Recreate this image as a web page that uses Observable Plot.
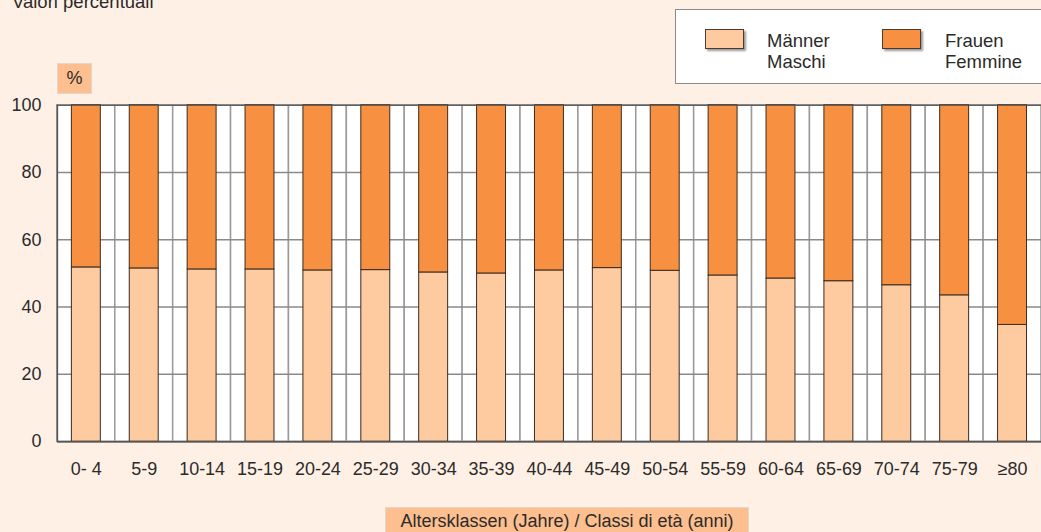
<!DOCTYPE html>
<html><head><meta charset="utf-8">
<script src="https://cdn.jsdelivr.net/npm/d3@7"></script>
<script src="https://cdn.jsdelivr.net/npm/@observablehq/plot@0.6"></script>
<style>
html,body{margin:0;padding:0;overflow:hidden;background:#FEF0E5;width:1041px;height:532px;}
body{position:relative;font-family:"Liberation Sans",Arial,sans-serif;color:#2b2b2b;}
#chart{position:absolute;left:0;top:0;}
.abs{position:absolute;white-space:nowrap;}
.sw{position:absolute;width:37px;height:18px;border:1px solid #4a3a30;box-shadow:2px 2px 2px #9a9a9a;}
.lt{position:absolute;font-size:18.5px;line-height:21px;color:#2b2b2b;}
</style></head><body>
<div id="chart"></div>
<div class="abs" style="left:12px;top:-8px;font-size:18.5px;line-height:20px;">Valori percentuali</div>
<div class="abs" style="left:57px;top:63px;width:33px;height:29px;background:#FDBF8F;border:1px solid #e6d6c8;font-size:18px;line-height:29px;text-align:center;">%</div>
<div class="abs" style="left:675px;top:9px;width:400px;height:73px;background:#fff;border:1px solid #8a8a8a;"></div>
<div class="sw" style="left:705px;top:29px;background:#FECA9F;"></div>
<div class="lt" style="left:767px;top:30px;">Männer<br>Maschi</div>
<div class="sw" style="left:882px;top:29px;background:#F79041;"></div>
<div class="lt" style="left:945px;top:30px;">Frauen<br>Femmine</div>
<div class="abs" style="left:385px;top:507px;width:362px;height:30px;background:#FDBF8F;border:1px solid #e6d6c8;font-size:18px;line-height:26px;text-align:center;">Altersklassen (Jahre) / Classi di età (anni)</div>
<script>
const ages = ["0- 4","5-9","10-14","15-19","20-24","25-29","30-34","35-39","40-44","45-49","50-54","55-59","60-64","65-69","70-74","75-79","≥80"];
const maenner = [51.8,51.5,51.2,51.2,50.9,51.0,50.3,50.0,50.9,51.6,50.8,49.4,48.5,47.7,46.5,43.5,34.7];
const frauen  = [48.2,48.5,48.8,48.8,49.1,49.0,49.7,50.0,49.1,48.4,49.2,50.6,51.5,52.3,53.5,56.5,65.3];
const sexes = ["Männer","Frauen"];
const colors = ["#FECA9F","#F79041"];
const yTicks = [0,20,40,60,80,100];

const table = [];
ages.forEach((a,i)=>{
  table.push({age:a, sex:sexes[0], value:maenner[i]});
  table.push({age:a, sex:sexes[1], value:frauen[i]});
});
const yMax = d3.max(yTicks), yMin = d3.min(yTicks);

const chart = Plot.plot({
  width: 1043, height: 532,
  marginLeft: 57, marginRight: 0, marginTop: 105, marginBottom: 90,
  style: {background:"transparent", color:"#2b2b2b", fontFamily:"'Liberation Sans', Arial, sans-serif"},
  x: {type:"band", domain: ages, padding: 0},
  y: {domain:[yMin,yMax]},
  color: {domain: sexes, range: colors},
  marks: [
    Plot.barY(ages, {x: d=>d, y1: ()=>yMin, y2: ()=>yMax, fill:"white", stroke:"#9a9a9a", strokeWidth:1.5}),
    Plot.gridY(yTicks, {stroke:"#8a8a8a", strokeOpacity:1, strokeWidth:1.5}),
    Plot.barY(table, {x:"age", y:"value", fill:"sex", stroke:"#3b2b20", strokeWidth:1, insetLeft:14.5, insetRight:14.5}),
    Plot.ruleY([yMin], {stroke:"#555", strokeWidth:1.5}),
    Plot.ruleY([yMax], {stroke:"#555", strokeWidth:1}),
    Plot.ruleX([ages[0]], {dx:-29, stroke:"#555", strokeWidth:1.5}),
    Plot.axisY(yTicks, {tickSize:0, tickPadding:16, fontSize:18, label:null}),
    Plot.axisX({tickSize:0, tickPadding:21, fontSize:18, label:null})
  ]
});
document.getElementById("chart").appendChild(chart);
</script>
</body></html>
